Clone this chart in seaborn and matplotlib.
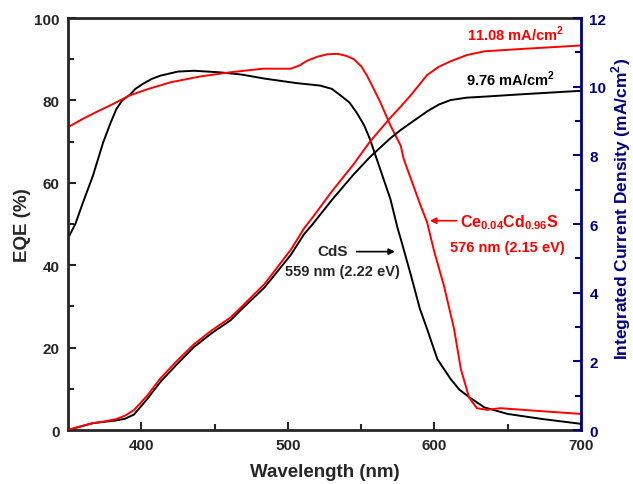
import numpy as np
import pandas as pd
import seaborn as sns
import matplotlib.pyplot as plt

# EQE curves (wavelength nm, %)
cds_wl = [350, 355, 360, 367, 374, 379, 383, 387, 392, 396, 401, 407, 413, 425, 436, 454, 468, 484,
          506, 522, 530, 536, 542, 547, 552, 556, 563, 570, 575, 577, 584, 590, 595, 602, 611, 617,
          624, 634, 650, 673, 700]
cds_eqe = [46.5, 50, 55, 61.7, 69.8, 74.5, 77.9, 80, 81.3, 82.8, 84, 85.2, 86, 87, 87.2, 86.8, 86.3,
           85.3, 84.2, 83.6, 82.8, 81.2, 79.5, 77, 74, 70.6, 63.3, 56, 48.8, 46.4, 37.5, 29.5, 24.5,
           17.2, 12.4, 9.8, 7.9, 5.5, 3.9, 2.7, 1.5]

ce_wl = [350, 360, 370, 380, 392, 405, 420, 440, 460, 483, 502, 508, 513, 520, 527, 534, 540, 545,
         550, 554, 559, 563, 570, 577, 579, 584, 590, 595, 600, 606.5, 613.4, 618, 623.6, 629, 636,
         645, 668, 700]
ce_eqe = [73.5, 75.5, 77.3, 79, 81.2, 82.8, 84.4, 85.8, 86.8, 87.7, 87.7, 88.5, 89.6, 90.6, 91.2, 91.3,
          90.8, 90, 88.3, 86, 82.5, 79.6, 73.9, 69, 65.8, 60.9, 55, 50.4, 43.1, 35, 24.5, 14.8, 7.9,
          5.3, 4.9, 5.3, 4.7, 3.9]

# integrated current density (mA/cm2)
jsc_wl = [350, 360, 367, 375, 383, 389, 395, 404, 413, 424, 436, 448, 461, 468, 484, 502, 511, 517,
          530, 545, 556, 570, 577, 584, 595, 603, 611, 622, 634, 660, 700]
ce_jsc = [0, 0.12, 0.2, 0.25, 0.32, 0.42, 0.58, 1.0, 1.5, 2.0, 2.5, 2.9, 3.28, 3.57, 4.25, 5.25, 5.87,
          6.2, 6.95, 7.75, 8.4, 9.1, 9.42, 9.76, 10.34, 10.58, 10.74, 10.92, 11.03, 11.1, 11.2]
cds_jsc = [0, 0.12, 0.2, 0.24, 0.28, 0.33, 0.45, 0.9, 1.4, 1.9, 2.42, 2.82, 3.2, 3.5, 4.15, 5.1, 5.7,
           6.0, 6.7, 7.45, 7.95, 8.5, 8.74, 8.95, 9.28, 9.48, 9.61, 9.68, 9.71, 9.78, 9.88]

sns.set_style("ticks")
plt.rcParams['font.family'] = ['Liberation Sans', 'DejaVu Sans']
plt.rcParams['font.weight'] = 'bold'
plt.rcParams['mathtext.fontset'] = 'custom'
plt.rcParams['mathtext.rm'] = 'Liberation Sans:bold'
plt.rcParams['mathtext.bf'] = 'Liberation Sans:bold'

navy = '#000080'
red = '#ff0000'

fig = plt.figure(figsize=(6.33, 4.85), dpi=100)
ax = fig.add_axes([0.1074, 0.1113, 0.8105, 0.8495])
ax2 = ax.twinx()

sns.lineplot(x=cds_wl, y=cds_eqe, ax=ax, color='black', lw=1.4)
sns.lineplot(x=ce_wl, y=ce_eqe, ax=ax, color=red, lw=1.4)
sns.lineplot(x=jsc_wl, y=cds_jsc, ax=ax2, color='black', lw=1.4)
sns.lineplot(x=jsc_wl, y=ce_jsc, ax=ax2, color=red, lw=1.4)

ax.set_xlim(350, 700)
ax.set_ylim(0, 100)
ax2.set_ylim(0, 12)

ax.set_xticks([400, 500, 600, 700])
ax.set_xticks([450, 550, 650], minor=True)
ax.set_yticks([0, 20, 40, 60, 80, 100])
ax.set_yticks([10, 30, 50, 70, 90], minor=True)
ax2.set_yticks([0, 2, 4, 6, 8, 10, 12])
ax2.set_yticks([1, 3, 5, 7, 9, 11], minor=True)

ax.tick_params(which='major', direction='in', length=6, width=1.5, labelsize=11, pad=6)
ax.tick_params(which='minor', direction='in', length=4, width=1.5)
ax2.tick_params(which='major', direction='in', length=6, width=1.5, labelsize=11, pad=6,
                color=navy, labelcolor=navy)
ax2.tick_params(which='minor', direction='in', length=4, width=1.5, color=navy)
for lab in ax.get_xticklabels() + ax.get_yticklabels() + ax2.get_yticklabels():
    lab.set_fontweight('bold')

for s in ['left', 'bottom', 'top']:
    ax.spines[s].set_linewidth(2)
    ax2.spines[s].set_visible(False)
ax.spines['right'].set_visible(False)
ax2.spines['right'].set_linewidth(2)
ax2.spines['right'].set_color(navy)

ax.set_xlabel('Wavelength (nm)', fontsize=13.5, fontweight='bold', labelpad=8)
ax.set_ylabel('EQE (%)', fontsize=13.5, fontweight='bold', labelpad=2)
ax2.set_ylabel('Integrated Current Density (mA/cm$^{2}$)', fontsize=12.5, fontweight='bold',
               color=navy, labelpad=2)
ax2.yaxis.label.set_y(0.54)

# annotations
ax2.text(655.5, 11.56, '11.08 mA/cm$^{2}$', color=red, fontsize=10.5,
         fontweight='bold', ha='center', va='center')
ax2.text(652, 10.25, '9.76 mA/cm$^{2}$', color='black', fontsize=10.5, fontweight='bold',
         ha='center', va='center')

ax.text(530.5, 43.4, 'CdS', fontsize=11, fontweight='bold', ha='center', va='center')
ax.annotate('', xy=(575, 43.3), xytext=(545, 43.3),
            arrowprops=dict(arrowstyle='-|>', color='black', lw=1.2, mutation_scale=9))
ax.text(537, 38.7, '559 nm (2.22 eV)', fontsize=10.5, fontweight='bold', ha='center', va='center')

ax.text(651, 50.6, 'Ce$_{0.04}$Cd$_{0.96}$S', color=red, fontsize=11.5, fontweight='bold',
        ha='center', va='center')
ax.annotate('', xy=(595, 50.8), xytext=(617, 50.8),
            arrowprops=dict(arrowstyle='-|>', color=red, lw=1.2, mutation_scale=9))
ax.text(650, 44.4, '576 nm (2.15 eV)', color=red, fontsize=10.5, fontweight='bold',
        ha='center', va='center')

fig.savefig('out.png', dpi=100)
